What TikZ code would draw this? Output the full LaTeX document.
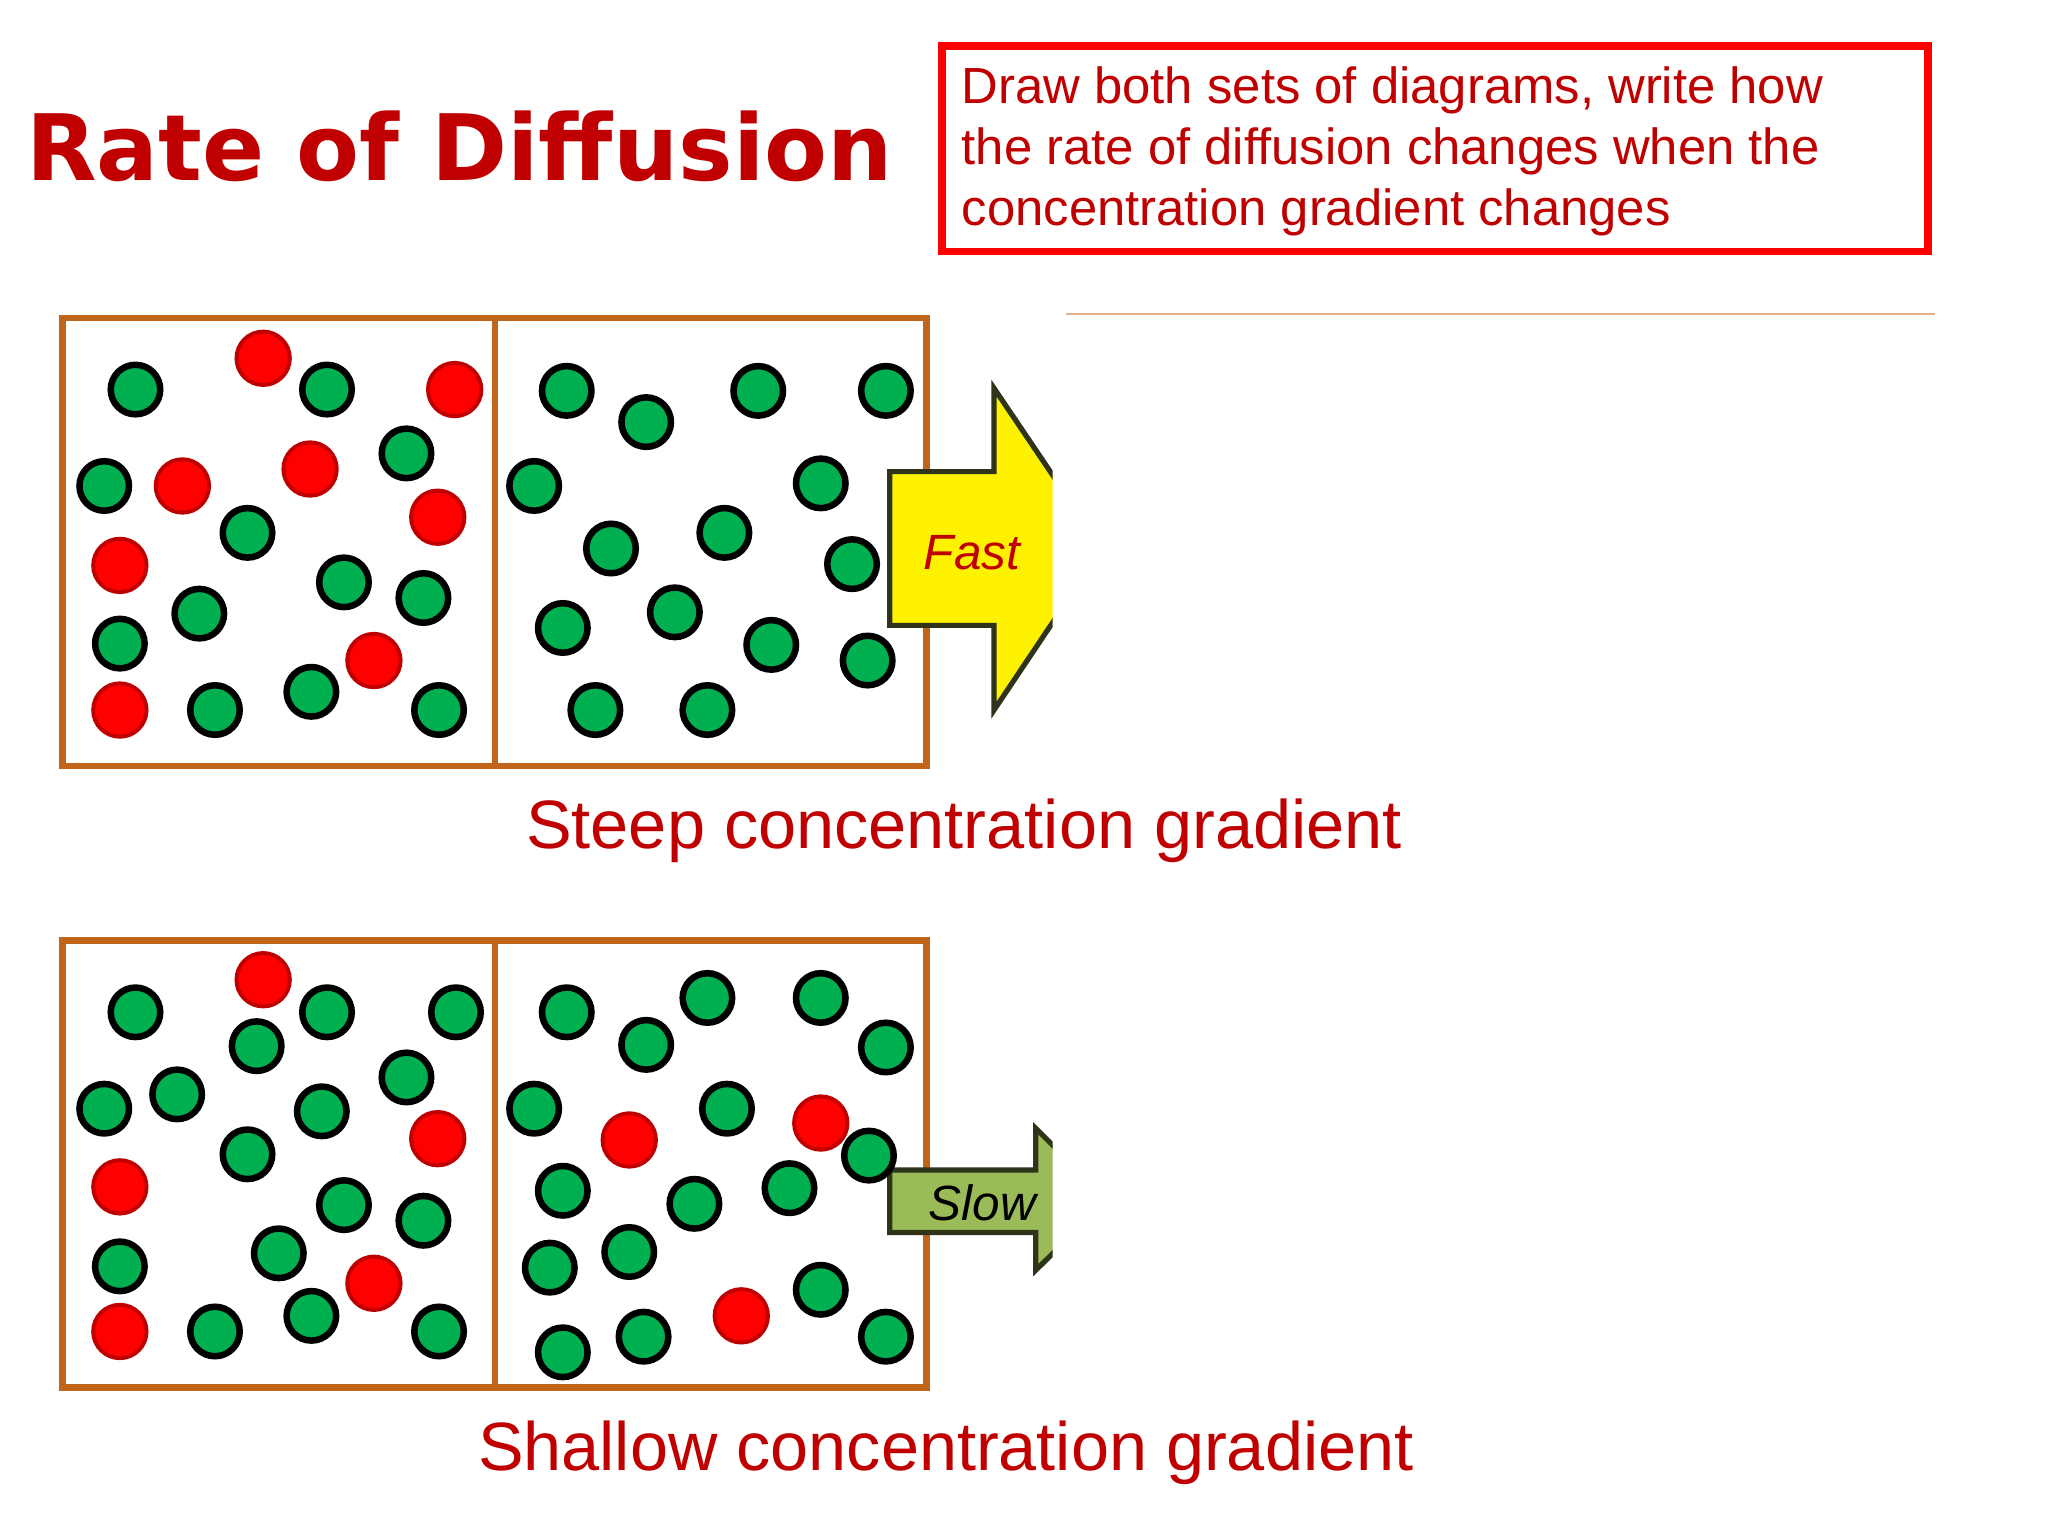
\documentclass[tikz,border=0pt]{standalone}
\usepackage{fontspec}
\setmainfont{Liberation Sans}
\newfontfamily\titlefont{DejaVu Sans}
\definecolor{dred}{HTML}{C00000}
\definecolor{gball}{HTML}{00B050}
\definecolor{brownb}{HTML}{C0651A}
\definecolor{olive}{HTML}{9BBB59}
\definecolor{darkol}{HTML}{2E3319}
\begin{document}
\begin{tikzpicture}[x=1pt,y=-1pt,
  gb/.style={circle,draw=black,line width=5pt,fill=gball,minimum size=38pt,inner sep=0pt},
  rb/.style={circle,draw=dred,line width=3pt,fill=red,minimum size=41pt,inner sep=0pt},
  boxframe/.style={draw=brownb,line width=5pt,fill=white},
  arr/.style={draw=darkol,line width=4pt,line join=miter}]
\useasboundingbox (0,0) rectangle (1572,1179);
\fill[white] (0,0) rectangle (1572,1179);
% title
\node[anchor=west,text=dred,inner sep=0] (title) at (20,112) {\resizebox{665pt}{!}{\titlefont\bfseries Rate of Diffusion}};
% instruction box
\node[draw=red,line width=6pt,minimum width=757pt,minimum height=158pt,anchor=north west,inner sep=0] (ibox) at (720,32) {};
\node[anchor=north west,align=left,text=dred,font=\fontsize{39}{47}\selectfont,inner sep=0] (itext) at (738,51)
 {Draw both sets of diagrams, write how\\the rate of diffusion changes when the\\concentration gradient changes};
\coordinate (l1) at (818,241); \coordinate (l2) at (1485,241);
\draw[color=brownb!50,line width=1pt] (l1) -- (l2);
\draw[boxframe] (48,244) rectangle (711,588);
\draw[draw=brownb,line width=4pt] (380,244) -- (380,588);
\draw[boxframe] (48,722) rectangle (711,1065);
\draw[draw=brownb,line width=4pt] (380,722) -- (380,1065);
\begin{scope}
\clip (0,0) rectangle (808,1179);
\draw[arr,fill=yellow] (683,362) -- (763,362) -- (763,298) -- (846,421) -- (763,545) -- (763,480) -- (683,480) -- cycle;
\draw[arr,fill=olive] (683,898) -- (795,898) -- (795,866) -- (850,921) -- (795,975) -- (795,946) -- (683,946) -- cycle;
\end{scope}
\node[text=dred,font=\itshape\fontsize{38}{38}\selectfont] (fast) at (746,424) {Fast};
\node[text=black,font=\itshape\fontsize{38}{38}\selectfont] (slow) at (754,923) {Slow};
\foreach \p in {(104,299),(251,299),(312,348),(80,373),(190,409),(264,447),(325,459),(153,471),(92,494),(165,545),(239,531),(337,545),
  (435,300),(496,324),(582,300),(680,300),(410,373),(630,371),(469,421),(556,409),(654,433),(432,482),(518,470),(592,495),(666,507),(457,545),(543,545),
  (104,777),(197,803),(251,777),(350,777),(312,827),(80,851),(136,840),(247,853),(190,886),(264,925),(325,937),(214,962),(92,972),(165,1022),(239,1010),(337,1022),
  (435,777),(496,802),(543,766),(630,766),(680,804),(410,851),(558,851),(667,887),(432,914),(533,924),(606,912),(483,961),(422,973),(630,990),(432,1038),(494,1026),(680,1026)}
  \node[gb] at \p {};
\foreach \p in {(202,275),(349,299),(140,373),(238,360),(336,397),(92,434),(287,507),(92,545),
  (202,752),(336,874),(92,911),(287,985),(92,1022),(483,875),(630,862),(569,1010)}
  \node[rb] at \p {};
\node[text=dred,inner sep=0] (steep) at (740,638) {\resizebox{672pt}{!}{Steep concentration gradient}};
\node[text=dred,inner sep=0] (shallow) at (726,1115) {\resizebox{718pt}{!}{Shallow concentration gradient}};
\end{tikzpicture}
\end{document}
